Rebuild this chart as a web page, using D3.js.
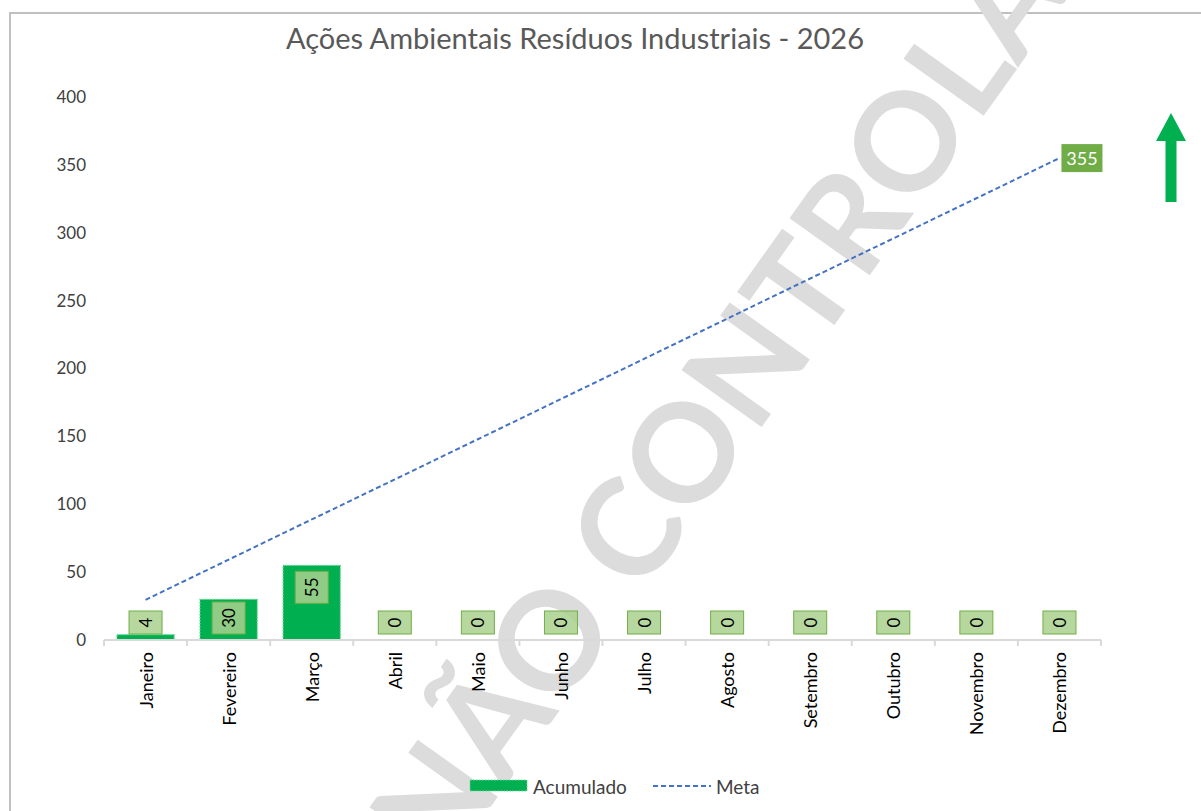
<!DOCTYPE html>
<html>
<head>
<meta charset="utf-8">
<script src="https://cdn.jsdelivr.net/npm/d3@7"></script>
<style>
  html, body { margin: 0; padding: 0; background: #ffffff; }
  svg { display: block; font-family: Lato, "Open Sans", sans-serif; }
</style>
</head>
<body>
<svg id="chart" width="1201" height="811"></svg>
<script>
// ---- data ----
const months = ["Janeiro","Fevereiro","Março","Abril","Maio","Junho","Julho","Agosto","Setembro","Outubro","Novembro","Dezembro"];
const acumulado = [4, 30, 55, 0, 0, 0, 0, 0, 0, 0, 0, 0];
const meta = [29.6, 59.2, 88.8, 118.3, 147.9, 177.5, 207.1, 236.7, 266.3, 295.8, 325.4, 355];
const yTicks = [0, 50, 100, 150, 200, 250, 300, 350, 400];
const title = "Ações Ambientais Resíduos Industriais - 2026";
const watermark = "NÃO CONTROLADA";
const seriesNames = ["Acumulado", "Meta"];

const svg = d3.select("#chart");
const W = 1201, H = 811;
const plot = { left: 104, right: 1101, top: 97, bottom: 640 };

// chart frame
svg.append("rect").attr("x", 10).attr("y", 13).attr("width", W).attr("height", H)
  .attr("fill", "#ffffff").attr("stroke", "#c0c0c0").attr("stroke-width", 2);

// watermark (behind)
svg.append("text")
  .attr("transform", "translate(772,322) rotate(-54.5)")
  .attr("text-anchor", "middle").attr("dominant-baseline", "central")
  .attr("font-family", "Lato, sans-serif").attr("font-weight", "bold")
  .attr("font-size", 136).attr("fill", "#dcdcdc")
  .text(watermark);

const x = d3.scaleBand().domain(months).range([plot.left, plot.right]).paddingInner(0.31).paddingOuter(0.155);
const xb = d3.scaleBand().domain(months).range([plot.left, plot.right]);
const y = d3.scaleLinear().domain([0, 400]).range([plot.bottom, plot.top]);

// title
svg.append("text").attr("x", 575).attr("y", 49).attr("text-anchor", "middle")
  .attr("font-size", 29).attr("fill", "#595959").text(title);

// y axis labels
const yAxis = d3.axisLeft(y).tickValues(yTicks).tickSize(0).tickPadding(0);
const gy = svg.append("g").attr("transform", `translate(86,0)`).call(yAxis);
gy.select(".domain").remove();
gy.selectAll("text").attr("font-size", 17).attr("fill", "#404040").attr("font-family", "Lato, sans-serif");

// bars
const data = months.map((m, i) => ({ m, v: acumulado[i], t: meta[i] }));
svg.append("g").selectAll("rect").data(data).join("rect")
  .attr("x", d => x(d.m)).attr("width", x.bandwidth())
  .attr("y", d => y(d.v)).attr("height", d => y(0) - y(d.v))
  .attr("fill", "#00b050").attr("stroke", "#6fdc9a").attr("stroke-width", 1.2)
  .attr("stroke-dasharray", "1.5,1.5");

// x axis
const xAxis = d3.axisBottom(xb).tickSize(0).tickPadding(0);
const gx = svg.append("g").attr("transform", `translate(0,${plot.bottom})`).call(xAxis);
gx.select(".domain").attr("stroke", "#d9d9d9").attr("stroke-width", 2)
  .attr("d", `M${plot.left},0H${plot.right}`);
gx.selectAll(".tick text").remove();
const bounds = months.map(m => xb(m)).concat([plot.right]);
gx.selectAll("line.b").data(bounds).join("line").attr("class", "b")
  .attr("x1", d => d).attr("x2", d => d).attr("y1", 0).attr("y2", 6)
  .attr("stroke", "#d9d9d9").attr("stroke-width", 2);
svg.append("g").selectAll("text").data(months).join("text")
  .attr("transform", d => `translate(${xb(d) + xb.bandwidth() / 2},652) rotate(-90)`)
  .attr("text-anchor", "end").attr("dominant-baseline", "central")
  .attr("font-size", 18).attr("fill", "#000000").text(d => d);

// meta line
const line = d3.line().x(d => xb(d.m) + xb.bandwidth() / 2).y(d => y(d.t));
svg.append("path").datum(data).attr("d", line).attr("fill", "none")
  .attr("stroke", "#4472c4").attr("stroke-width", 2).attr("stroke-dasharray", "5,3");

// bar data labels
const boxLen = v => String(v).length * 9 + 14;
const lab = svg.append("g").selectAll("g").data(data).join("g")
  .attr("transform", d => {
    const len = boxLen(d.v);
    let cy = y(d.v) + 6 + len / 2;
    cy = Math.min(cy, y(0) - 6 - len / 2);
    return `translate(${xb(d.m) + xb.bandwidth() / 2},${cy})`;
  });
lab.append("rect")
  .attr("x", -16.5).attr("width", 33)
  .attr("y", d => -boxLen(d.v) / 2)
  .attr("height", d => boxLen(d.v))
  .attr("fill", "#a9d18e").attr("fill-opacity", 0.85)
  .attr("stroke", "#70ad47").attr("stroke-width", 1);
lab.append("text").attr("transform", "rotate(-90)")
  .attr("text-anchor", "middle").attr("dominant-baseline", "central")
  .attr("font-size", 17).attr("fill", "#000").text(d => d.v);

// meta end label
const last = data[data.length - 1];
const lx = xb(last.m) + xb.bandwidth() / 2 + 2, ly = y(last.t);
svg.append("rect").attr("x", lx).attr("y", ly - 14).attr("width", 41).attr("height", 28)
  .attr("fill", "#70ad47");
svg.append("text").attr("x", lx + 20.5).attr("y", ly).attr("text-anchor", "middle")
  .attr("dominant-baseline", "central").attr("font-size", 18).attr("fill", "#ffffff").text(last.t);

// green up arrow
svg.append("path")
  .attr("d", "M1171,113 L1186,141 L1176.5,141 L1176.5,202 L1165.5,202 L1165.5,141 L1156,141 Z")
  .attr("fill", "#00b050");

// legend
const lg = svg.append("g");
lg.append("rect").attr("x", 470).attr("y", 780).attr("width", 57).attr("height", 11)
  .attr("fill", "#00b050").attr("stroke", "#6fdc9a").attr("stroke-dasharray", "1.5,1.5");
lg.append("text").attr("x", 533).attr("y", 786).attr("dominant-baseline", "central")
  .attr("font-size", 19).attr("fill", "#404040").text(seriesNames[0]);
lg.append("line").attr("x1", 653).attr("x2", 711).attr("y1", 786).attr("y2", 786)
  .attr("stroke", "#4472c4").attr("stroke-width", 2).attr("stroke-dasharray", "5,3");
lg.append("text").attr("x", 716).attr("y", 786).attr("dominant-baseline", "central")
  .attr("font-size", 19).attr("fill", "#404040").text(seriesNames[1]);
</script>
</body>
</html>
